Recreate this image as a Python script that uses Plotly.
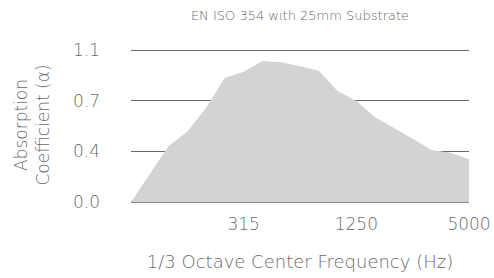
import plotly.graph_objects as go

frequencies = ["80", "100", "125", "160", "200", "250", "315", "400", "500", "630",
               "800", "1000", "1250", "1600", "2000", "2500", "3150", "4000", "5000"]
absorption = [0.0, 0.20, 0.405, 0.51, 0.68, 0.90, 0.943, 1.02, 1.011, 0.982,
              0.95, 0.803, 0.731, 0.613, 0.538, 0.458, 0.376, 0.357, 0.309]
y_tick_vals = [0.0, 1.1 / 3, 2.2 / 3, 1.1]
y_tick_text = ["0.0", "0.4", "0.7", "1.1"]
x_tick_vals = ["315", "1250", "5000"]

FONT = "DejaVu Sans"
TXT = "#6a6a6a"
W = 200

fig = go.Figure()
fig.add_trace(go.Scatter(
    x=frequencies, y=absorption, mode="lines", fill="tozeroy",
    line=dict(width=0, color="#d3d3d3"), fillcolor="#d3d3d3",
    hoverinfo="x+y", showlegend=False,
))

fig.update_layout(
    width=494, height=278,
    margin=dict(l=131, r=25, t=48, b=76),
    paper_bgcolor="white", plot_bgcolor="white",
    title=dict(text="EN ISO 354 with 25mm Substrate", x=300 / 494, xanchor="center",
               y=1 - 15 / 278, yanchor="middle",
               font=dict(family=FONT, size=13, color=TXT, weight=W)),
    xaxis=dict(type="category", range=[0, 18], showgrid=False, zeroline=False,
               showline=False, ticks="", tickvals=x_tick_vals, ticktext=x_tick_vals,
               automargin=False, ticklabelstandoff=10,
               tickfont=dict(family=FONT, size=17, color=TXT, weight=W),
               title=dict(text="1/3 Octave Center Frequency (Hz)", standoff=22,
                          font=dict(family=FONT, size=18, color=TXT, weight=W))),
    yaxis=dict(range=[0, 1.1 * 154 / 152], tickvals=y_tick_vals, ticktext=y_tick_text,
               showgrid=True, gridcolor="#6a6a6a", gridwidth=1,
               zeroline=True, zerolinecolor="#8a8a8a", zerolinewidth=1.5,
               showline=False, ticks="", ticklabelstandoff=30, automargin=False,
               tickfont=dict(family=FONT, size=17, color=TXT, weight=W),
               title=dict(text="Absorption<br>Coefficient (α)", standoff=18,
                          font=dict(family=FONT, size=17, color=TXT, weight=W))),
)

fig.write_html("out.html", config={"displayModeBar": False},
               post_script="document.body.style.margin='0';document.body.style.padding='0';")
